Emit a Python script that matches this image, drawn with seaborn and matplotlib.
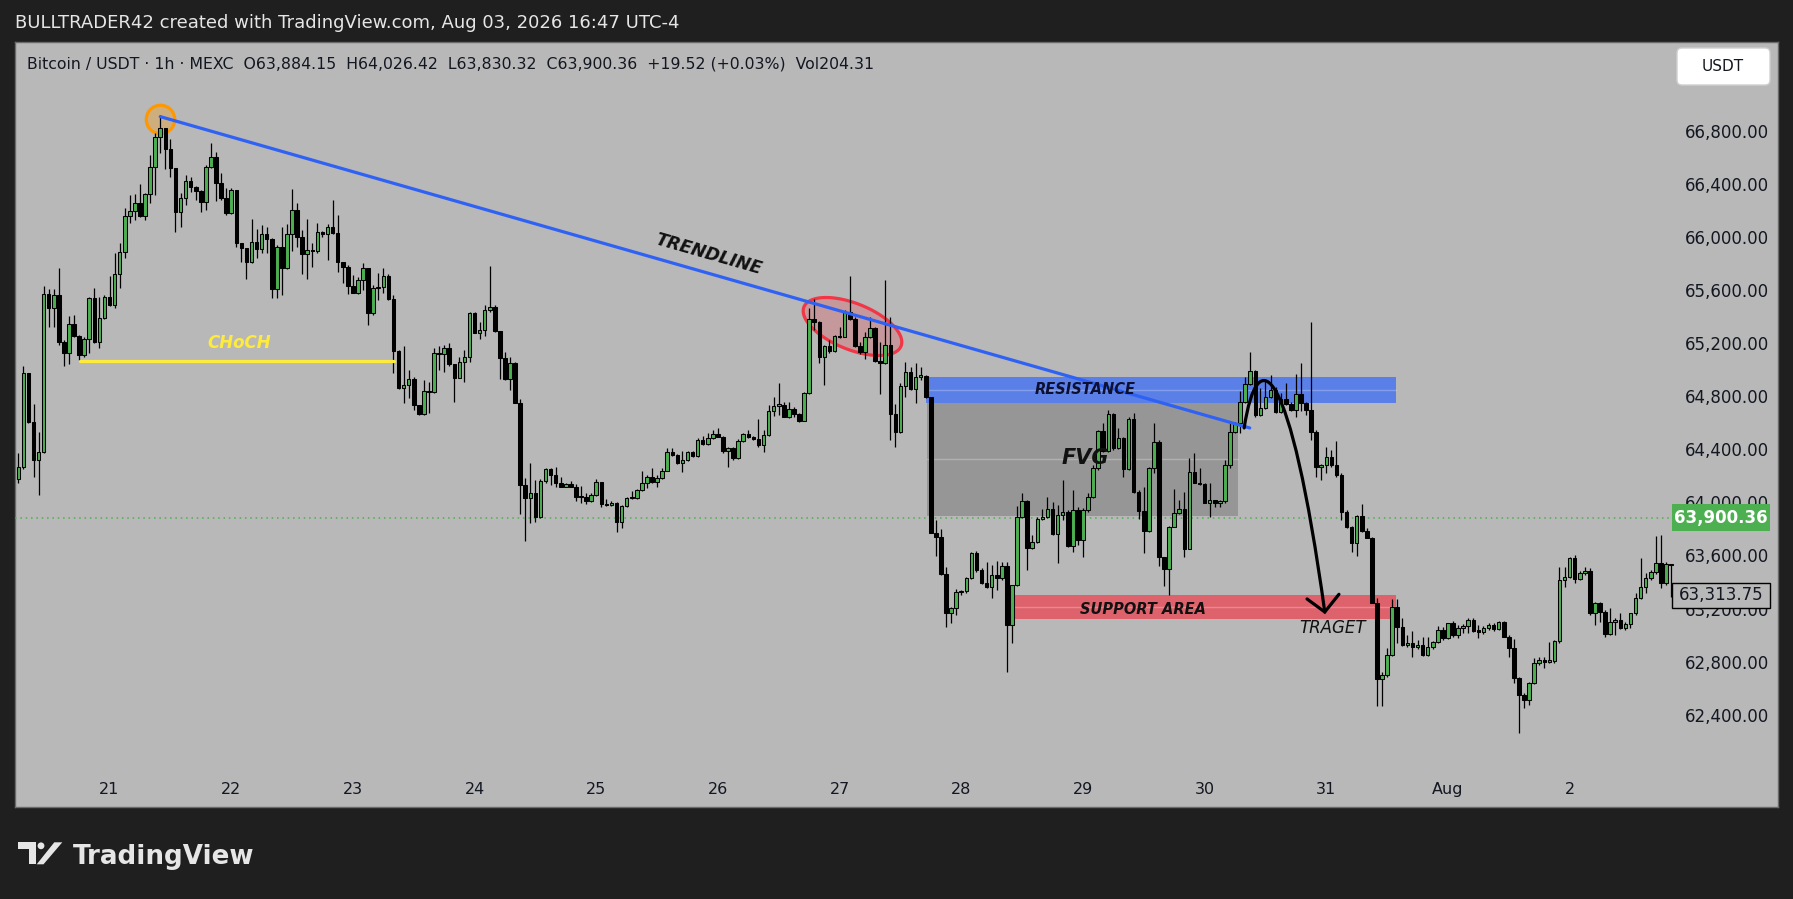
import numpy as np
import matplotlib
matplotlib.use("Agg")
import matplotlib.pyplot as plt
import matplotlib.transforms as mtransforms
from matplotlib.patches import Rectangle, FancyBboxPatch, Polygon, Circle, PathPatch
from matplotlib.path import Path
from matplotlib.markers import MarkerStyle
import seaborn as sns

# hourly BTC/USDT candles, first bar Jul 20 06:00 (index 0)
first_open = 64188
closes = [
    64283, 64986, 64622, 64333, 64396, 65581, 65476, 65576, 65225, 65137, 65355, 65270, 65124, 65245, 65551, 65220, 65401, 65559, 65501, 65732,
    65903, 66174, 66212, 66272, 66171, 66337, 66543, 66764, 66832, 66674, 66536, 66199, 66305, 66435, 66392, 66362, 66279, 66538, 66613, 66423,
    66305, 66197, 66367, 65966, 65928, 65828, 65973, 65920, 66033, 66001, 65619, 65935, 65777, 66033, 66217, 66016, 65883, 65915, 65908, 66053,
    66033, 66091, 66041, 65823, 65790, 65647, 65594, 65687, 65777, 65438, 65627, 65634, 65722, 65544, 65157, 64873, 64898, 64944, 64748, 64677,
    64856, 64848, 65137, 65130, 65175, 65057, 64954, 65074, 65107, 65438, 65293, 65313, 65463, 65488, 65305, 65104, 64941, 65067, 64765, 64145,
    64045, 64082, 63901, 64175, 64266, 64218, 64163, 64133, 64150, 64133, 64057, 64055, 64025, 64070, 64165, 64002, 63995, 64012, 63864, 63987,
    64050, 64045, 64108, 64158, 64203, 64170, 64200, 64253, 64396, 64371, 64308, 64333, 64396, 64364, 64484, 64451, 64497, 64527, 64509, 64404,
    64421, 64346, 64479, 64529, 64504, 64492, 64446, 64522, 64705, 64743, 64750, 64660, 64715, 64677, 64630, 64836, 65396, 65375, 65112, 65195,
    65155, 65270, 65262, 65446, 65393, 65195, 65150, 65257, 65330, 65079, 65062, 65200, 64677, 64547, 64892, 64999, 64866, 64962, 64969, 64806,
    63787, 63752, 63473, 63184, 63222, 63337, 63350, 63443, 63636, 63505, 63410, 63380, 63468, 63448, 63538, 63091, 63392, 63907, 64025, 63669,
    63719, 63887, 63902, 63962, 63777, 63920, 63940, 63686, 63957, 63731, 63957, 64053, 64271, 64555, 64404, 64681, 64422, 64497, 64264, 64640,
    64090, 63950, 63799, 64271, 64472, 63601, 63510, 63832, 63932, 63962, 63661, 64246, 64163, 64153, 64013, 64033, 64013, 64025, 64296, 64547,
    64610, 64773, 64907, 65007, 64673, 64723, 64811, 64861, 64698, 64791, 64756, 64711, 64831, 64766, 64711, 64547, 64279, 64296, 64359, 64296,
    64221, 63940, 63827, 63706, 63912, 63802, 63744, 63259, 62682, 62714, 62865, 63229, 63078, 62940, 62958, 62928, 62940, 62865, 62923, 62960,
    63053, 62990, 63103, 63015, 63071, 63083, 63128, 63046, 63041, 63066, 63091, 63058, 63116, 63003, 62915, 62694, 62563, 62526, 62651, 62802,
    62827, 62815, 62822, 62973, 63430, 63450, 63593, 63435, 63485, 63500, 63179, 63259, 63191, 63020, 63116, 63128, 63066, 63098, 63179, 63292,
    63380, 63442, 63492, 63560, 63405, 63550, 63540,
]
highs = [
    64389, 65042, 64990, 64755, 64547, 65644, 65619, 65620, 65777, 65237, 65418, 65423, 65272, 65263, 65564, 65627, 65564, 65576, 65720, 65890,
    65966, 66229, 66330, 66337, 66413, 66347, 66631, 66794, 66932, 66835, 66749, 66536, 66342, 66480, 66468, 66395, 66365, 66556, 66719, 66656,
    66493, 66380, 66380, 66370, 65968, 65930, 66146, 66071, 66104, 66091, 66005, 65953, 66091, 66109, 66375, 66272, 66066, 66146, 65966, 66116,
    66058, 66111, 66292, 66179, 65828, 65803, 65727, 65715, 65815, 65780, 65652, 65745, 65777, 65732, 65576, 65162, 65195, 65011, 64956, 64750,
    64936, 64919, 65180, 65195, 65200, 65212, 65060, 65112, 65162, 65451, 65445, 65375, 65501, 65795, 65501, 65308, 65150, 65112, 65070, 64790,
    64195, 64308, 64183, 64188, 64276, 64276, 64278, 64208, 64162, 64175, 64150, 64140, 64082, 64082, 64188, 64170, 64040, 64025, 64015, 63995,
    64057, 64100, 64112, 64253, 64220, 64271, 64220, 64271, 64421, 64421, 64376, 64404, 64404, 64404, 64497, 64514, 64534, 64559, 64572, 64514,
    64429, 64435, 64489, 64539, 64559, 64514, 64640, 64559, 64748, 64810, 64911, 64773, 64773, 64730, 64685, 64848, 65476, 65546, 65383, 65200,
    65237, 65275, 65338, 65463, 65719, 65413, 65225, 65300, 65413, 65335, 65225, 65689, 65413, 64755, 64917, 65075, 65037, 65062, 65037, 64975,
    64810, 63882, 63812, 63531, 63230, 63360, 63358, 63455, 63644, 63646, 63518, 63568, 63543, 63576, 63563, 63568, 63395, 63988, 64083, 64033,
    63769, 63907, 63962, 64058, 64020, 63995, 64183, 63957, 64108, 63983, 63970, 64083, 64296, 64560, 64610, 64711, 64691, 64573, 64510, 64655,
    64686, 64108, 64133, 64284, 64615, 64485, 63606, 63837, 64113, 64033, 64096, 64347, 64384, 64271, 64158, 64158, 64035, 64035, 64334, 64623,
    64623, 64856, 64962, 65150, 65012, 64874, 64937, 64974, 64886, 64836, 64912, 64773, 64982, 65062, 64773, 65376, 64560, 64300, 64435, 64410,
    64480, 64234, 63957, 63837, 63920, 64003, 63820, 63750, 63292, 62740, 62915, 63284, 63284, 63141, 63015, 63048, 62978, 62998, 62998, 62973,
    63083, 63078, 63108, 63123, 63091, 63098, 63141, 63141, 63091, 63083, 63103, 63103, 63123, 63123, 63015, 62983, 62702, 62576, 62664, 62840,
    62847, 62852, 62965, 62978, 63530, 63530, 63600, 63618, 63500, 63530, 63518, 63266, 63266, 63204, 63216, 63141, 63179, 63116, 63184, 63329,
    63593, 63480, 63505, 63761, 63769, 63568, 63550,
]
lows = [
    64158, 64263, 64610, 64203, 64070, 64390, 65333, 65338, 65200, 65044, 65057, 65260, 65087, 65112, 65137, 65215, 65175, 65393, 65494, 65476,
    65632, 65858, 66121, 66141, 66166, 66141, 66267, 66330, 66644, 66523, 66468, 66053, 66091, 66254, 66355, 66292, 66204, 66217, 66531, 66287,
    66292, 66179, 66190, 65941, 65828, 65697, 65820, 65853, 65890, 65890, 65551, 65551, 65576, 65770, 65910, 65935, 65732, 65694, 65790, 65890,
    66016, 65840, 66036, 65752, 65664, 65581, 65589, 65581, 65614, 65350, 65426, 65539, 65589, 65539, 64986, 64868, 64760, 64798, 64710, 64672,
    64672, 64690, 64836, 65011, 64994, 65042, 64768, 64949, 64924, 65074, 65288, 65242, 65268, 65451, 65300, 64941, 64936, 64861, 64760, 63927,
    63726, 63861, 63869, 63900, 64158, 64145, 64133, 64128, 64128, 64128, 64027, 64007, 64000, 64020, 64062, 63982, 63990, 63990, 63794, 63819,
    63982, 64040, 64040, 64103, 64120, 64163, 64128, 64188, 64250, 64364, 64301, 64245, 64328, 64358, 64354, 64446, 64446, 64489, 64504, 64389,
    64283, 64335, 64338, 64471, 64500, 64484, 64434, 64396, 64514, 64665, 64672, 64655, 64647, 64660, 64622, 64625, 64830, 65313, 65062, 64898,
    65137, 65150, 65255, 65257, 65388, 65187, 65130, 65092, 65250, 65074, 64828, 65055, 64484, 64429, 64535, 64811, 64861, 64761, 64937, 64799,
    63782, 63611, 63468, 63079, 63103, 63166, 63317, 63330, 63438, 63493, 63400, 63367, 63292, 63355, 63430, 62740, 62958, 63385, 63900, 63505,
    63661, 63706, 63882, 63895, 63769, 63556, 63882, 63681, 63644, 63694, 63606, 63945, 64045, 64259, 64397, 64397, 64409, 64420, 64208, 64259,
    64083, 63887, 63631, 63794, 64234, 63536, 63385, 63317, 63827, 63927, 63606, 63660, 64158, 64146, 64008, 63907, 63983, 63978, 64013, 64271,
    64535, 64535, 64766, 64899, 64660, 64665, 64716, 64799, 64691, 64686, 64748, 64706, 64660, 64706, 64673, 64485, 64203, 64183, 64234, 64284,
    64208, 63882, 63819, 63644, 63611, 63794, 63744, 63254, 62478, 62481, 62702, 62857, 62953, 62935, 62927, 62847, 62907, 62857, 62857, 62907,
    62953, 62978, 62983, 62998, 62990, 63033, 63033, 63041, 62995, 63023, 63053, 63048, 63053, 62998, 62852, 62656, 62275, 62463, 62488, 62646,
    62790, 62764, 62807, 62807, 62958, 63380, 63442, 63410, 63430, 63467, 63166, 63091, 63116, 62998, 63015, 63015, 63058, 63053, 63066, 63166,
    63284, 63329, 63430, 63475, 63367, 63392, 63304,
]

# x axis: day labels sit on the midnight bars
day_bars = [18, 42, 66, 90, 114, 138, 162, 186, 210, 234, 258, 282, 306]
day_labels = ["21", "22", "23", "24", "25", "26", "27", "28", "29", "30", "31", "Aug", "2"]
price_ticks = [62400, 62800, 63200, 63600, 64000, 64400, 64800, 65200, 65600, 66000, 66400, 66800]

last_price = 63900.36
marked_price = 63313.75
header = ("Bitcoin / USDT \u00b7 1h \u00b7 MEXC  O63,884.15  H64,026.42  L63,830.32  "
          "C63,900.36  +19.52 (+0.03%)  Vol204.31")
credit = "BULLTRADER42 created with TradingView.com, Aug 03, 2026 16:47 UTC-4"

# drawings (bar index, price)
trend_x = [28, 242.9]
trend_y = [66920, 64575]
choch_x = [12.2, 74.2]
choch_y = [65080, 65080]
resist_box = (179.0, 271.7, 64766, 64957)
fvg_box = (179.2, 240.6, 63912, 64766)
support_box = (195.2, 271.7, 63135, 63316)
peak_mark = (27.95, 66900)
retest_mark = (164.4, 65345)
arrow_curve = [(241.8, 64575), (244.5, 65238), (250.8, 65087), (257.7, 63189)]
arrow_head_x = [254.2, 257.7, 260.5]
arrow_head_y = [63287, 63189, 63322]

sns.set_style("white")
plt.rcParams['font.family'] = ['DejaVu Sans']

W, H = 1793, 899
BG = '#1f1f1f'
PANEL = '#b8b8b8'
fig = plt.figure(figsize=(W / 100, H / 100), dpi=100, facecolor=BG)
# pixel transform, origin top-left
PX = mtransforms.Affine2D().scale(1 / W, -1 / H).translate(0, 1) + fig.transFigure

ax = fig.add_axes([15 / W, 1 - 807 / H, 1763 / W, 765 / H])
ax.set_facecolor(PANEL)
ax.set_xlim(-0.65, 347.1)
ax.set_ylim(61720, 67482)
ax.set_xticks([])
ax.set_yticks([])
for s in ax.spines.values():
    s.set_color('#6a6a6a')
    s.set_linewidth(1)

# candles
c = np.array(closes, dtype=float)
o = np.r_[first_open, c[:-1]]
k = np.arange(len(c))
hi = np.maximum(np.array(highs, float), np.maximum(o, c))
lo = np.minimum(np.array(lows, float), np.minimum(o, c))
up = c >= o
b_lo = np.minimum(o, c)
b_h = np.maximum(np.abs(c - o), 9)
ax.vlines(k, lo, hi, color='black', lw=0.9, zorder=4)
ax.bar(k[up], b_h[up], bottom=b_lo[up], width=0.7, color='#4caf50',
       edgecolor='black', linewidth=0.75, zorder=5)
ax.bar(k[~up], b_h[~up], bottom=b_lo[~up], width=0.7, color='black',
       edgecolor='black', linewidth=0.75, zorder=5)

# zones
def zone(box, color, alpha, z):
    x0, x1, y0, y1 = box
    ax.add_patch(Rectangle((x0, y0), x1 - x0, y1 - y0, facecolor=color,
                           alpha=alpha, edgecolor='none', zorder=z))
    ax.plot([x0, x1], [(y0 + y1) / 2] * 2, color='white', alpha=0.25, lw=1, zorder=z)

zone(fvg_box, 'black', 0.18, 2)
zone(resist_box, '#2962ff', 0.66, 2)
zone(support_box, '#f23645', 0.66, 2)

# trendline and CHoCH
sns.lineplot(x=trend_x, y=trend_y, ax=ax, color='#2f62f4', lw=2.3, zorder=6)
sns.lineplot(x=choch_x, y=choch_y, ax=ax, color='#ffeb3b', lw=2.3, zorder=6)

# markers: orange circle at the peak, red ellipse at the retest
ax.plot(*peak_mark, marker='o', ms=20.5, mfc=(1, 0.6, 0, 0.32), mec='#ff9800',
        mew=2.3, ls='none', zorder=3)
t = np.linspace(0, 2 * np.pi, 120)
ang = np.deg2rad(-22)
ex, ey = 50 * np.cos(t), 22 * np.sin(t)
verts = np.column_stack([ex * np.cos(ang) - ey * np.sin(ang), ex * np.sin(ang) + ey * np.cos(ang)])
ell = MarkerStyle(Path(verts, closed=True))
ax.plot(*retest_mark, marker=ell, ms=71, mfc=(0.95, 0.21, 0.27, 0.24),
        mec='#f23645', mew=2.3, ls='none', zorder=3)

# projected move
codes = [Path.MOVETO, Path.CURVE4, Path.CURVE4, Path.CURVE4]
ax.add_patch(PathPatch(Path(arrow_curve, codes), fc='none', ec='black', lw=2.3,
                       capstyle='round', zorder=8))
ax.plot(arrow_head_x, arrow_head_y, color='black', lw=2.3, solid_capstyle='round',
        solid_joinstyle='miter', zorder=8)

# labels on the chart
lab = dict(fontweight='bold', fontstyle='italic', ha='center', va='center', zorder=9)
ax.text(136.2, 65886, "TRENDLINE", fontsize=12.5, color='#111111', rotation=-16,
        rotation_mode='anchor', **lab)
ax.text(43.5, 65215, "CHoCH", fontsize=12, color='#ffeb3b', **lab)
ax.text(210.4, 64862, "RESISTANCE", fontsize=10.5, color='#0d1030', **lab)
ax.text(210.4, 64350, "FVG", fontsize=15, color='#111111', **lab)
ax.text(221.8, 63210, "SUPPORT AREA", fontsize=10.5, color='#111111', **lab)
ax.text(259.3, 63068, "TRAGET", fontsize=12, fontstyle='italic', color='#111111',
        ha='center', va='center', zorder=9)

# price scale (drawn inside the panel, TradingView style)
yt = ax.get_yaxis_transform()
for p in price_ticks:
    ax.text(0.9949, p, f"{p:,.2f}", transform=yt, ha='right', va='center',
            fontsize=12, color='#131722', zorder=5)
ax.axhline(last_price, xmax=0.94, color='#4caf50', lw=1.1, ls=(0, (1, 2.5)), zorder=3)
ax.add_patch(Rectangle((0.9399, last_price - 101), 0.0556, 203, transform=yt,
                       facecolor='#4caf50', edgecolor='none', zorder=10, clip_on=False))
ax.text(0.9677, last_price, f"{last_price:,.2f}", transform=yt, ha='center',
        va='center', fontsize=12, color='white', fontweight='bold', zorder=11)
ax.add_patch(Rectangle((0.9399, marked_price - 94), 0.0556, 188, transform=yt,
                       facecolor=PANEL, edgecolor='black', lw=1, zorder=10, clip_on=False))
ax.text(0.9677, marked_price, f"{marked_price:,.2f}", transform=yt, ha='center',
        va='center', fontsize=12, color='#131722', zorder=11)

# time scale
xt = ax.get_xaxis_transform()
for b, s in zip(day_bars, day_labels):
    ax.text(b, 0.0235, s, transform=xt, ha='center', va='center', fontsize=11.5,
            color='#131722')

# header lines
fig.text(27, 64, header, transform=PX, ha='left', va='center', fontsize=11.3, color='#131722')
fig.text(15, 23, credit, transform=PX, ha='left', va='center', fontsize=13, color='#e6e6e6')

# USDT button
fig.add_artist(FancyBboxPatch((1677, 48), 93, 37, boxstyle='round,pad=0,rounding_size=5',
                              transform=PX, facecolor='white', edgecolor='#d0d0d0', lw=1))
fig.text(1723, 66.5, "USDT", transform=PX, ha='center', va='center', fontsize=11, color='#131722')

# TradingView logo
logo = '#e6e6e6'
fig.add_artist(Polygon([(18.3, 842.3), (36.0, 842.3), (36.0, 864.3), (29.3, 864.3),
                        (29.3, 849.3), (18.3, 849.3)], closed=True, transform=PX,
                       facecolor=logo, edgecolor='none'))
fig.add_artist(Circle((41.0, 845.8), 3.4, transform=PX, facecolor=logo, edgecolor='none'))
fig.add_artist(Polygon([(36.7, 864.3), (43.5, 864.3), (62.3, 842.3), (54.3, 842.3)],
                       closed=True, transform=PX, facecolor=logo, edgecolor='none'))
fig.text(73, 864.3, "TradingView", transform=PX, ha='left', va='baseline',
         fontsize=18.8, fontweight='bold', color=logo)

fig.savefig('out.png', dpi=100, facecolor=BG)
